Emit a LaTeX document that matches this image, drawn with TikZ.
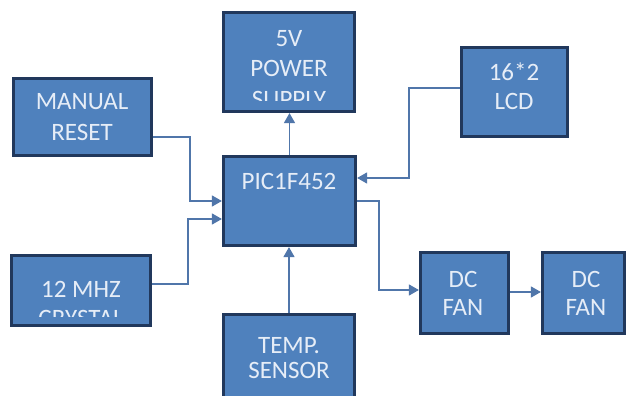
\documentclass[tikz,border=0pt]{standalone}
\usepackage{fontspec}
\setmainfont{Carlito}
\usetikzlibrary{arrows.meta,calc}
\definecolor{boxfill}{RGB}{79,129,189}
\definecolor{boxline}{RGB}{33,56,92}
\definecolor{txt}{RGB}{230,237,247}
\definecolor{wire}{RGB}{80,118,170}
\tikzset{
 blk/.style={draw=boxline, line width=3.2pt, fill=boxfill, rectangle, inner sep=0pt, outer sep=1.6pt},
 lbl/.style={text=txt, font=\fontsize{25}{30}\selectfont, anchor=base, inner sep=0pt, outer sep=0pt},
 conn/.style={draw=wire, line width=1.3pt, -{Triangle[length=10pt,width=11pt]}},
}
\begin{document}
\begin{tikzpicture}[x=1pt,y=-1pt]
\clip (0,0) rectangle (627,396);
\fill[white] (0,0) rectangle (627,396);
% boxes
\node[blk, minimum width=131pt, minimum height=99pt] (ps) at (289,62) {};
\node[blk, minimum width=138pt, minimum height=77pt] (mr) at (82.5,117) {};
\node[blk, minimum width=132pt, minimum height=89pt] (pic) at (289.5,201) {};
\node[blk, minimum width=106pt, minimum height=89pt] (lcd) at (514.5,92) {};
\node[blk, minimum width=139pt, minimum height=70pt] (cr) at (81,290.5) {};
\node[blk, minimum width=131pt, minimum height=84pt] (ts) at (289,356.5) {};
\node[blk, minimum width=88pt, minimum height=81pt] (dc1) at (464.5,293) {};
\node[blk, minimum width=82pt, minimum height=81pt] (dc2) at (583.5,293) {};
% texts
\begin{scope}
\clip ($(ps.north west)+(3,3)$) rectangle ($(ps.south east)+(-3,-13)$);
\node[lbl] (ps1) at (289,47) {5V};
\node[lbl] (ps2) at (289,77) {POWER};
\node[lbl] (ps3) at (289,107) {SUPPLY};
\end{scope}
\node[lbl] (mr1) at (82,110) {MANUAL};
\node[lbl] (mr2) at (82,140) {RESET};
\node[lbl] (lcd1) at (514,81) {16*2};
\node[lbl] (lcd2) at (514,110) {LCD};
\node[lbl] (pic1) at (289,189) {PIC1F452};
\begin{scope}
\clip ($(cr.north west)+(3,3)$) rectangle ($(cr.south east)+(-3,-11)$);
\node[lbl] (cr1) at (81,297) {12 MHZ};
\node[lbl] (cr2) at (81,326) {CRYSTAL};
\end{scope}
\node[lbl] (ts1) at (289,353) {TEMP.};
\node[lbl] (ts2) at (289,378) {SENSOR};
\node[lbl] (dc1a) at (463,287) {DC};
\node[lbl] (dc1b) at (463,315) {FAN};
\node[lbl] (dc2a) at (586,287) {DC};
\node[lbl] (dc2b) at (586,315) {FAN};
% connectors
\draw[conn] ($(mr.east)+(0,20)$) -- ++(37,0) |- (pic.west);
\draw[conn] ($(cr.east)+(0,-6.5)$) -- ++(36,0) |- ($(pic.west)+(0,18)$);
\draw[conn] ($(lcd.west)+(0,-4)$) -- ++(-51,0) |- ($(pic.east)+(0,-23)$);
\draw[conn] (pic.east) -- ++(22,0) |- ($(dc1.west)+(0,-3)$);
\draw[conn] ($(dc1.east)+(0,-1)$) -- ($(dc2.west)+(0,-1)$);
\draw[conn] (pic.north) -- (pic.north |- ps.south);
\draw[conn] (ts.north) -- (ts.north |- pic.south);
\end{tikzpicture}
\end{document}
